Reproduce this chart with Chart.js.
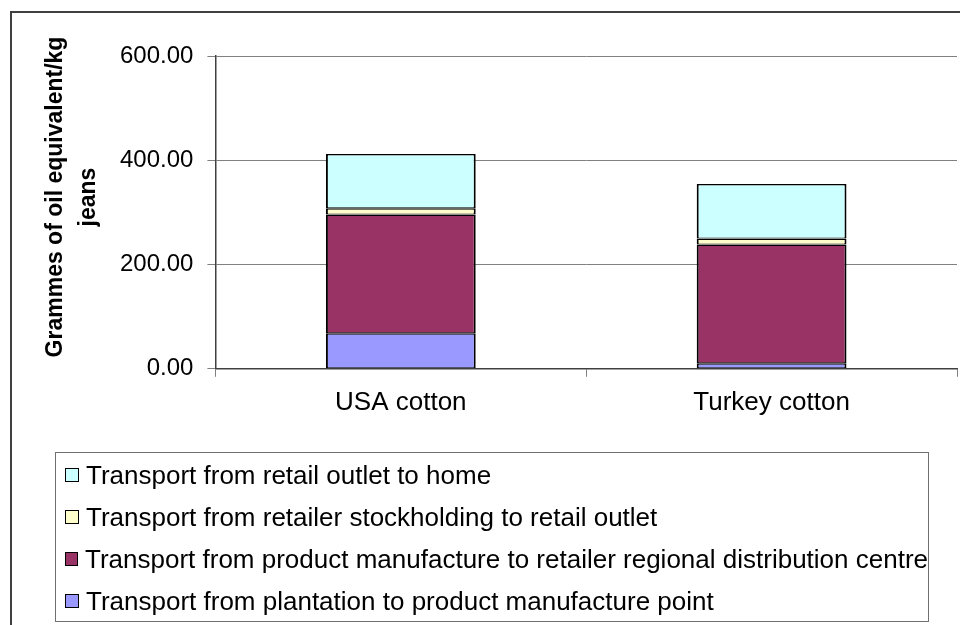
<!DOCTYPE html>
<html>
<head>
<meta charset="utf-8">
<script src="https://cdn.jsdelivr.net/npm/chart.js@4/dist/chart.umd.min.js"></script>
<style>
  html, body { margin: 0; padding: 0; background: #fff; }
  #wrap { position: relative; width: 960px; height: 625px; overflow: hidden; font-family: "Liberation Sans", Arial, sans-serif; }
  #frame { position: absolute; left: 10px; top: 11px; width: 1000px; height: 700px; border-left: 2px solid #404040; border-top: 2px solid #404040; }
  canvas { position: absolute; left: 0; top: 0; }
  #legend { position: absolute; left: 55px; top: 452px; width: 874px; height: 170px; border: 1px solid #707070; box-sizing: border-box; padding-top: 1px; }
  .item { height: 42px; display: flex; align-items: center; font-size: 26px; color: #000; white-space: nowrap; }
  .box { width: 12px; height: 12px; border: 1px solid #000; margin-left: 9px; margin-right: 7px; }
</style>
</head>
<body>
<div id="wrap">
  <div id="frame"></div>
  <canvas id="chart" width="960" height="625"></canvas>
  <div id="legend"></div>
</div>
<script>
const categories = ['USA cotton', 'Turkey cotton'];
const seriesNames = [
  'Transport from plantation to product manufacture point',
  'Transport from product manufacture to retailer regional distribution centre',
  'Transport from retailer stockholding to retail outlet',
  'Transport from retail outlet to home'
];
const plantation = [68, 10.5];
const toDistribution = [228, 228];
const toOutlet = [12, 11.5];
const toHome = [104, 104.5];
const yTicks = [0, 200, 400, 600];
const yTitle = ['Grammes of oil equivalent/kg', 'jeans'];
const colors = ['#9999FF', '#993366', '#FFFFCC', '#CCFFFF'];

const values = [plantation, toDistribution, toOutlet, toHome];
const font = "'Liberation Sans', Arial, sans-serif";

const datasets = seriesNames.map(function(name, i) {
  return {
    label: name,
    data: values[i],
    backgroundColor: colors[i],
    borderColor: '#000',
    borderWidth: { top: 1.5, bottom: 1, left: 2, right: 2 },
    borderSkipped: false,
    inflateAmount: 0,
    categoryPercentage: 1,
    barPercentage: 0.404
  };
});

// rotated two-line axis title, sitting a little above the plot's middle
const axisTitle = {
  id: 'axisTitle',
  afterDraw: function(chart) {
    const c = chart.ctx;
    c.save();
    c.translate(56, 197);
    c.rotate(-Math.PI / 2);
    c.fillStyle = '#000';
    c.font = 'bold 23px ' + font;
    c.textAlign = 'center';
    c.textBaseline = 'middle';
    yTitle.forEach(function(line, i) {
      c.fillText(line, 0, i * 33);
    });
    c.restore();
  }
};

const ctx = document.getElementById('chart').getContext('2d');
const chart = new Chart(ctx, {
  type: 'bar',
  data: { labels: categories, datasets: datasets },
  plugins: [axisTitle],
  options: {
    responsive: false,
    animation: false,
    layout: { padding: { left: 106, top: 56, right: 3, bottom: 197 } },
    plugins: {
      legend: { display: false },
      tooltip: { enabled: false }
    },
    scales: {
      x: {
        stacked: true,
        border: { color: '#404040', width: 1.5 },
        grid: {
          offset: true,
          color: function(c) { return c.index === categories.length ? '#808080' : 'transparent'; },
          tickColor: '#808080',
          tickLength: 8
        },
        ticks: { color: '#000', padding: 10, font: { family: font, size: 26 } }
      },
      y: {
        stacked: true,
        min: yTicks[0],
        max: yTicks[yTicks.length - 1],
        afterBuildTicks: function(scale) {
          scale.ticks = yTicks.map(function(v) { return { value: v }; });
        },
        border: { color: '#404040', width: 1.5 },
        grid: { color: '#808080', tickColor: '#808080', tickLength: 8 },
        ticks: {
          color: '#000',
          padding: 14,
          font: { family: font, size: 24 },
          callback: function(v) { return Number(v).toFixed(2); }
        }
      }
    }
  }
});

// legend lists the top of the stack first
const legend = document.getElementById('legend');
chart.data.datasets.slice().reverse().forEach(function(ds) {
  const row = document.createElement('div');
  row.className = 'item';
  const box = document.createElement('span');
  box.className = 'box';
  box.style.background = ds.backgroundColor;
  row.appendChild(box);
  row.appendChild(document.createTextNode(ds.label));
  legend.appendChild(row);
});
</script>
</body>
</html>
